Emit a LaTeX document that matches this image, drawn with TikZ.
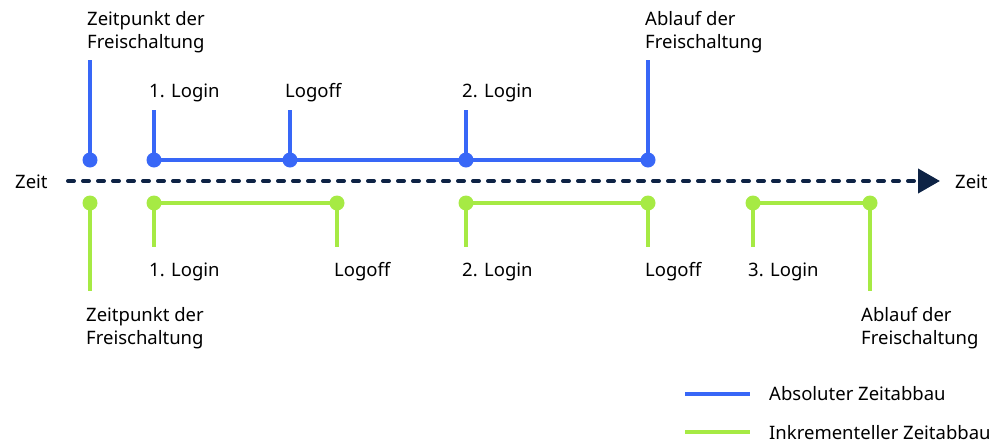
\documentclass[tikz,border=0pt]{standalone}
\usepackage{fontspec}
\setmainfont{Noto Sans}
\usetikzlibrary{arrows.meta}
\definecolor{cblue}{HTML}{3867F7}
\definecolor{cgreen}{HTML}{A6EA44}
\definecolor{cnavy}{HTML}{0E2345}
\tikzset{
  bdot/.style={circle,fill=cblue,inner sep=0pt,minimum size=15pt},
  gdot/.style={circle,fill=cgreen,inner sep=0pt,minimum size=15pt},
  bline/.style={draw=cblue,line width=4pt},
  gline/.style={draw=cgreen,line width=4pt},
  lbl/.style={anchor=base west,inner sep=0pt,font=\fontsize{18.5}{23.5}\selectfont,align=left},
  axis/.style={draw=cnavy,line width=4pt,line cap=round,dash pattern=on 6pt off 9pt,
     -{Triangle[length=22pt,width=24pt,line cap=butt]}},
}
\begin{document}
\begin{tikzpicture}[x=1pt,y=-1pt]
\useasboundingbox (0,0) rectangle (1005,445);
% axis
\coordinate (a0) at (68,181);
\coordinate (a1) at (940,181);
\draw[axis] (a0) -- (a1);
\node[lbl] (zl) at (15,188) {Zeit};
\node[lbl] (zr) at (955,188) {Zeit};
% blue (absolute)
\node[bdot] (b1) at (90,160) {};
\node[bdot] (b2) at (154,160) {};
\node[bdot] (b3) at (290,160) {};
\node[bdot] (b4) at (466,160) {};
\node[bdot] (b5) at (648,160) {};
\coordinate (bt1) at (90,60);
\coordinate (bt2) at (154,110);
\coordinate (bt3) at (290,110);
\coordinate (bt4) at (466,110);
\coordinate (bt5) at (648,60);
\draw[bline] (bt1) -- (b1.center);
\draw[bline] (bt2) -- (b2.center);
\draw[bline] (bt3) -- (b3.center);
\draw[bline] (bt4) -- (b4.center);
\draw[bline] (bt5) -- (b5.center);
\draw[bline] (b2.center) -- (b3.center) -- (b4.center) -- (b5.center);
% blue labels (multi-line nodes: base = last line)
\node[lbl] (tl1) at (87,48.5) {Zeitpunkt der\\Freischaltung};
\node[lbl] (tl2) at (149,97) {1. Login};
\node[lbl] (tl3) at (285,97) {Logoff};
\node[lbl] (tl4) at (462,97) {2. Login};
\node[lbl] (tl5) at (645,48.5) {Ablauf der\\Freischaltung};
% green (incremental)
\node[gdot] (g1) at (90,203) {};
\node[gdot] (g2) at (154,203) {};
\node[gdot] (g3) at (337,203) {};
\node[gdot] (g4) at (466,203) {};
\node[gdot] (g5) at (648,203) {};
\node[gdot] (g6) at (753,203) {};
\node[gdot] (g7) at (870,203) {};
\coordinate (gb1) at (90,291);
\coordinate (gb2) at (154,247);
\coordinate (gb3) at (337,247);
\coordinate (gb4) at (466,247);
\coordinate (gb5) at (648,247);
\coordinate (gb6) at (753,247);
\coordinate (gb7) at (870,291);
\draw[gline] (g1.center) -- (gb1);
\draw[gline] (g2.center) -- (gb2);
\draw[gline] (g3.center) -- (gb3);
\draw[gline] (g4.center) -- (gb4);
\draw[gline] (g5.center) -- (gb5);
\draw[gline] (g6.center) -- (gb6);
\draw[gline] (g7.center) -- (gb7);
\draw[gline] (g2.center) -- (g3.center);
\draw[gline] (g4.center) -- (g5.center);
\draw[gline] (g6.center) -- (g7.center);
% green labels
\node[lbl] (bl2) at (149,276) {1. Login};
\node[lbl] (bl3) at (334,276) {Logoff};
\node[lbl] (bl4) at (462,276) {2. Login};
\node[lbl] (bl5) at (645,276) {Logoff};
\node[lbl] (bl6) at (748,276) {3. Login};
\node[lbl] (bl1) at (86,344.5) {Zeitpunkt der\\Freischaltung};
\node[lbl] (bl7) at (861,344.5) {Ablauf der\\Freischaltung};
% legend
\coordinate (lb0) at (685,394);
\coordinate (lb1) at (750,394);
\coordinate (lg0) at (685,432);
\coordinate (lg1) at (750,432);
\draw[bline] (lb0) -- (lb1);
\draw[gline] (lg0) -- (lg1);
\node[lbl] (lt1) at (769,400) {Absoluter Zeitabbau};
\node[lbl] (lt2) at (769,439) {Inkrementeller Zeitabbau};
\end{tikzpicture}
\end{document}
